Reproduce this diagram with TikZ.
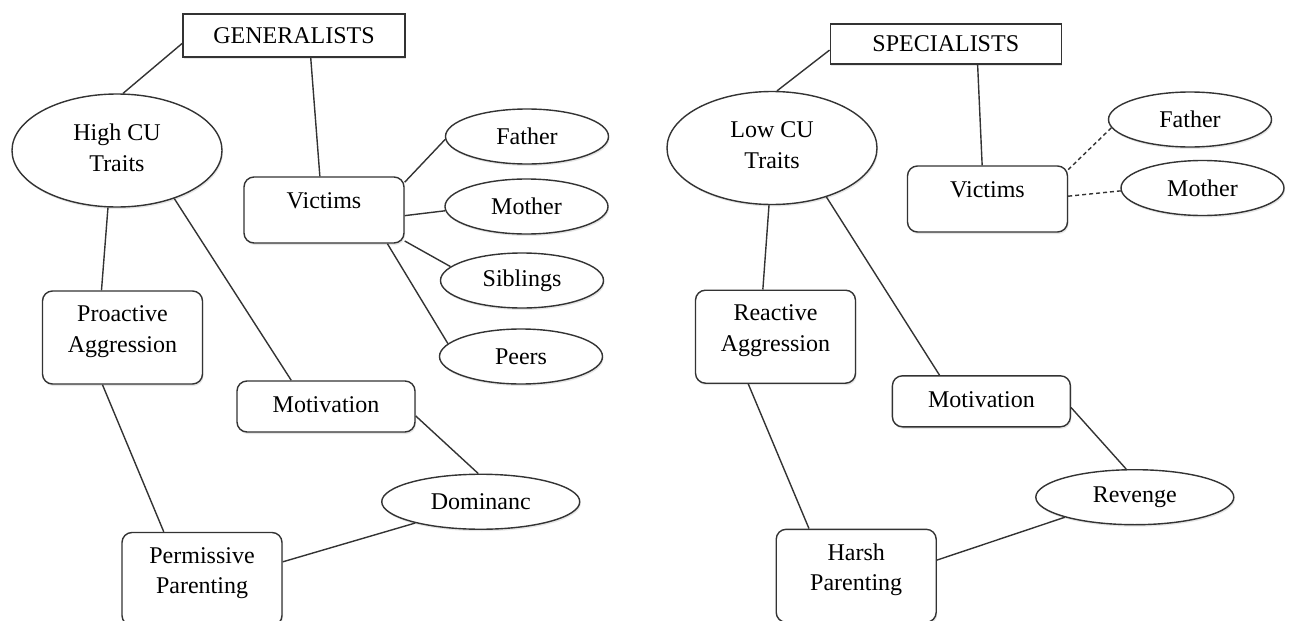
\documentclass[tikz,border=0pt]{standalone}
\usepackage{fontspec}
\setmainfont{Liberation Serif}
\usetikzlibrary{shapes.geometric,shadows}

\begin{document}
\begin{tikzpicture}[x=0.5pt,y=-0.5pt,
    every node/.style={font=\fontsize{12}{15.3}\selectfont, inner sep=0pt},
    shade/.style={drop shadow={shadow xshift=0.5pt, shadow yshift=-1pt, opacity=0.2}},
    headbox/.style={draw=black!80, line width=0.7pt, fill=white, shade},
    ovalnode/.style={ellipse, draw=black!80, line width=0.7pt, fill=white, align=center, shade},
    traitoval/.style={ovalnode, minimum width=105pt, minimum height=56.5pt, text depth=3pt},
    kinoval/.style={ovalnode, minimum width=81.5pt, minimum height=27.5pt},
    causeoval/.style={ovalnode, minimum width=99pt, minimum height=27.5pt},
    roundbox/.style={draw=black!80, line width=0.7pt, fill=white, rounded corners=5pt, align=center, minimum width=80pt, shade},
    victimbox/.style={roundbox, minimum height=33pt, text depth=9pt},
    twolinebox/.style={roundbox, minimum height=46.5pt, text depth=8.6pt},
    motivebox/.style={roundbox, minimum width=89pt, minimum height=25.5pt, text depth=2pt},
    link/.style={draw=black!80, line width=0.7pt},
    dashlink/.style={link, dash pattern=on 2pt off 1.5pt}]
    \useasboundingbox (0,0) rectangle (1292,621);

    % Generalists
    \node[headbox, minimum width=111pt, minimum height=21.5pt] (genL) at (294,35.5) {GENERALISTS};
    \node[traitoval] (hiCU) at (117,150.5) {High CU\\Traits};
    \node[victimbox] (vicL) at (324,210) {Victims};
    \node[kinoval] (fatL) at (527,136.5) {Father};
    \node[kinoval] (motL) at (526.5,206.5) {Mother};
    \node[kinoval] (sibL) at (522,280.5) {Siblings};
    \node[kinoval] (peeL) at (521,356.5) {Peers};
    \node[twolinebox] (proL) at (122.5,337.5) {Proactive\\Aggression};
    \node[motivebox] (mvL) at (326,406.5) {Motivation};
    \node[causeoval] (domL) at (480.75,501.75) {Dominanc};
    \node[twolinebox] (perL) at (202,579) {Permissive\\Parenting};

    % Specialists
    \node[headbox, minimum width=115.5pt, minimum height=20pt] (genR) at (945.75,44) {SPECIALISTS};
    \node[traitoval] (loCU) at (772,148) {Low CU\\Traits};
    \node[victimbox] (vicR) at (987.5,199) {Victims};
    \node[kinoval] (fatR) at (1190,119.5) {Father};
    \node[kinoval] (motR) at (1202.5,188) {Mother};
    \node[twolinebox] (reaR) at (775.5,336.7) {Reactive\\Aggression};
    \node[motivebox] (mvR) at (981.4,401.3) {Motivation};
    \node[causeoval] (revR) at (1134.8,497.2) {Revenge};
    \node[twolinebox] (harR) at (856.2,575.8) {Harsh\\Parenting};

    % Links, left
    \draw[link] (genL.184) -- (hiCU.84);
    \draw[link] (genL.-53) -- (vicL.97);
    \draw[link] (vicL.19) -- (fatL.182);
    \draw[link] (vicL.-4) -- (motL.183);
    \draw[link] (vicL.-21) -- (sibL.169);
    \draw[link] (vicL.-28) -- (peeL.170);
    \draw[link] (hiCU.261) -- (proL.114);
    \draw[link] (hiCU.-40) -- (mvL.143);
    \draw[link] (proL.247) -- (perL.129);
    \draw[link] (mvL.-6) -- (domL.95);
    \draw[link] (perL.12) -- (domL.198);

    % Links, right
    \draw[link] (genR.183) -- (loCU.85);
    \draw[link] (genR.-33) -- (vicR.99);
    \draw[dashlink] (vicR.20) -- (fatR.186);
    \draw[dashlink] (vicR.2) -- (motR.182);
    \draw[link] (loCU.267) -- (reaR.105);
    \draw[link] (loCU.-42) -- (mvR.148);
    \draw[link] (reaR.240) -- (harR.135);
    \draw[link] (mvR.-4) -- (revR.107);
    \draw[link] (harR.11) -- (revR.196);
\end{tikzpicture}
\end{document}
